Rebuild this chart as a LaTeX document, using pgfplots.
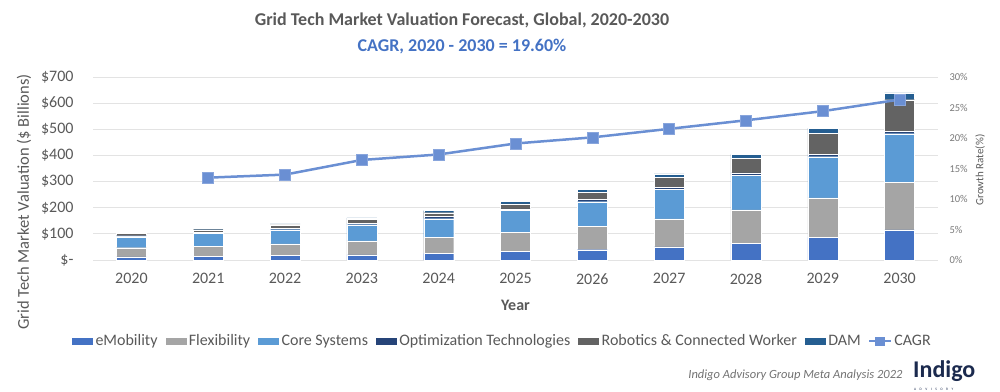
\documentclass[border=0pt]{standalone}
\usepackage{pgfplots}
\usepackage{pgfplotstable}
\pgfplotsset{compat=1.18}
\usepackage{fontspec}
\setmainfont{Carlito}
\definecolor{cE}{HTML}{4472C4}
\definecolor{cF}{HTML}{A5A5A5}
\definecolor{cC}{HTML}{5B9BD5}
\definecolor{cO}{HTML}{264478}
\definecolor{cR}{HTML}{636363}
\definecolor{cD}{HTML}{255E91}
\definecolor{cagr}{HTML}{6A8FD3}
\definecolor{gridc}{HTML}{E3E3E3}
\definecolor{txt}{HTML}{595959}
\definecolor{navy}{HTML}{1B2A4E}

\pgfplotstableread{
x  emob  flex  core  opt  rob  dam
0  11.5  35.5  41    5    9    4
1  14    39.5  48.5  5    9    5
2  18    44    54    6    12   4
3  20    53    62    6    14   6
4  25    62    71    8    15   8
5  32    74    83    7    19   10
6  39.5  89.5  94    9    28   10
7  50    107   113   9    38   12
8  65    127   132   9    57   14
9  87    151   157   9    81   19
10 115   182   186   10   120  26
}\bars

\pgfplotstableread{
x  g
1  13.5
2  14.0
3  16.4
4  17.3
5  19.1
6  20.1
7  21.5
8  22.9
9  24.4
10 26.3
}\growth

\begin{document}
\begin{tikzpicture}[x=1bp,y=1bp]
\useasboundingbox (0,0) rectangle (1000,391);
\begin{axis}[
  at={(93bp,131bp)}, anchor=south west,
  scale only axis, width=845bp, height=183bp,
  ybar stacked, bar width=30bp,
  xmin=-0.5, xmax=10.5, ymin=0, ymax=700,
  xtick={0,...,10},
  xticklabels={2020,2021,2022,2023,2024,2025,2026,2027,2028,2029,2030},
  ytick={0,100,...,700},
  yticklabels={\$-,\$100,\$200,\$300,\$400,\$500,\$600,\$700},
  ymajorgrids, grid style={color=gridc, line width=1bp},
  axis line style={draw=none},
  major tick length=0pt,
  tick label style={font=\fontsize{16bp}{18bp}\selectfont, text=txt},
  xticklabel style={yshift=-10bp},
  yticklabel style={xshift=-16bp},
  xlabel={Year},
  xlabel style={font=\fontsize{16bp}{18bp}\selectfont\bfseries, text=txt, at={(axis description cs:0.5,-0.246)}, anchor=center},
  ylabel={Grid Tech Market Valuation (\$ Billions)},
  ylabel style={font=\fontsize{16.5bp}{18bp}\selectfont, text=txt, at={(axis description cs:-0.0817,0.317)}, anchor=center, rotate=0},
  legend style={draw=none, fill=none, at={(axis description cs:0.484,-0.443)}, anchor=center,
    font=\fontsize{16bp}{18bp}\selectfont, text=txt, inner xsep=1bp, /tikz/every even column/.append style={column sep=5bp}},
  legend columns=7,
  legend image code/.code={\fill[#1] (-2bp,-4bp) rectangle (20bp,4bp);},
  every axis plot/.append style={draw=white, line width=0.3bp},
]
\addplot[fill=cE] table[x=x,y=emob]{\bars};
\addplot[fill=cF] table[x=x,y=flex]{\bars};
\addplot[fill=cC] table[x=x,y=core]{\bars};
\addplot[fill=cO] table[x=x,y=opt]{\bars};
\addplot[fill=cR] table[x=x,y=rob]{\bars};
\addplot[fill=cD] table[x=x,y=dam]{\bars};
\legend{eMobility,Flexibility,Core Systems,Optimization Technologies,Robotics \& Connected Worker,DAM}
\addlegendimage{legend image code/.code={\draw[cagr, line width=2.5bp] (-2bp,0bp) -- (20bp,0bp); \fill[cagr] (4.5bp,-4bp) rectangle (13.5bp,4bp);}}
\addlegendentry{CAGR}
\end{axis}
\begin{axis}[
  at={(93bp,131bp)}, anchor=south west,
  scale only axis, width=845bp, height=183bp,
  xmin=-0.5, xmax=10.5, ymin=0, ymax=30,
  axis y line*=right, hide x axis,
  axis line style={draw=none},
  major tick length=0pt,
  ytick={0,5,...,30},
  yticklabels={0\%,5\%,10\%,15\%,20\%,25\%,30\%},
  yticklabel style={font=\fontsize{10.5bp}{12bp}\selectfont, text=txt!80, xshift=8bp},
  ylabel={Growth Rate(\%)},
  ylabel style={font=\fontsize{11bp}{13bp}\selectfont, text=txt, at={(axis description cs:1.0497,0.492)}, anchor=center},
]
\addplot[cagr, line width=2.5bp, mark=square*, mark size=5.5bp, mark options={fill=cagr, draw=cagr!80!white, line width=0.6bp}] table[x=x,y=g]{\growth};
\end{axis}
\node[font=\fontsize{18bp}{22bp}\selectfont\bfseries, text=txt] at (462,371) {Grid Tech Market Valuation Forecast, Global, 2020-2030};
\node[font=\fontsize{18bp}{22bp}\selectfont\bfseries, text=cE] at (462,344) {CAGR, 2020 - 2030 = 19.60\%};
\node[font=\fontsize{12.5bp}{14bp}\selectfont\itshape, text=txt!85, anchor=east] at (906,16) {Indigo Advisory Group Meta Analysis 2022};
\node[font=\fontsize{24bp}{26bp}\selectfont\bfseries, text=navy, anchor=base west, inner sep=0pt] at (913,14) {Indigo};
\node[font=\fontsize{3.5bp}{4bp}\selectfont, text=navy, anchor=base west, inner sep=0pt] at (914,1) {A\hspace{3.5bp}D\hspace{3.5bp}V\hspace{3.5bp}I\hspace{3.5bp}S\hspace{3.5bp}O\hspace{3.5bp}R\hspace{3.5bp}Y};
\end{tikzpicture}
\end{document}
